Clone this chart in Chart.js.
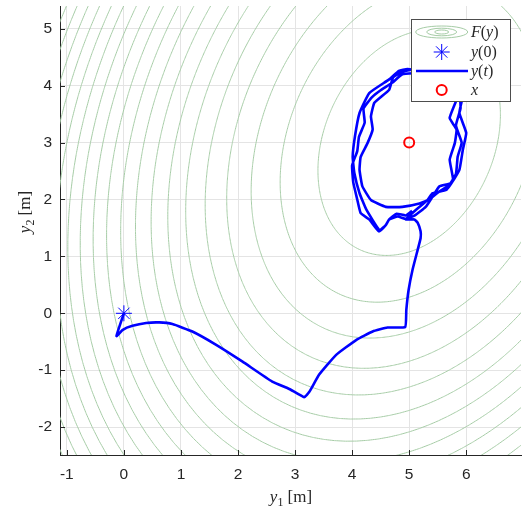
<!DOCTYPE html>
<html>
<head>
<meta charset="utf-8">
<script src="https://cdn.jsdelivr.net/npm/chart.js@4.4.1/dist/chart.umd.min.js"></script>
<style>
  html, body { margin: 0; padding: 0; background: #fff; }
  #plot { display: block; }
</style>
</head>
<body>
<canvas id="plot" width="522" height="510"></canvas>
<script>
'use strict'

// trajectory y(t) (y1 and y2 in metres)
const y1Path = [
  0, -0.13, -0.02, 0.15, 0.39, 0.62, 0.85, 1.2, 1.61, 2.08, 2.6, 2.9, 3.16, 3.25, 3.42, 3.72, 4.07, 4.36, 4.62, 4.93,
  4.95, 4.99, 5.06, 5.15, 5.2, 5.2, 5.15, 5.09, 4.94,
  5.12, 5.32, 5.41, 5.65, 5.77, 5.71, 5.8, 5.83, 5.71, 5.83, 5.9, 5.75, 5.45, 5.15, 4.97, 4.82, 4.65,
  4.3, 4.13, 4.05, 4.01, 4.04, 4.13, 4.25, 4.48, 4.59, 4.65, 4.8, 4.94,
  5.1, 5.29, 5.41, 5.53, 5.74, 5.88, 5.94, 6.0, 5.88, 5.94, 5.95, 5.8, 5.5, 5.2, 4.9, 4.72, 4.65,
  4.39, 4.33, 4.36, 4.27, 4.15, 4.13, 4.18, 4.33, 4.59, 4.88, 5.18,
  5.35, 5.5, 5.7, 5.82, 5.85, 5.92, 5.82, 5.9, 5.88, 5.7, 5.4, 5.1, 4.88, 4.7, 4.5, 4.35, 4.2,
  4.22, 4.12, 4.09, 4.0, 4.02, 4.09, 4.15, 4.3, 4.47, 4.59, 4.65, 4.78, 4.94, 5.05
]
const y2Path = [
  0, -0.4, -0.29, -0.22, -0.17, -0.16, -0.19, -0.32, -0.55, -0.85, -1.2, -1.33, -1.475, -1.38, -1.08, -0.73, -0.47, -0.32, -0.25, -0.24,
  0.06, 0.41, 0.77, 1.12, 1.32, 1.44, 1.59, 1.65, 1.65,
  1.82, 1.99, 2.11, 2.17, 2.34, 2.7, 2.99, 3.23, 3.43, 3.75, 4.0, 4.2, 4.25, 4.27, 4.29, 4.26, 4.11,
  3.87, 3.52, 3.11, 2.75, 2.46, 2.11, 1.82, 1.46, 1.55, 1.65, 1.7, 1.66,
  1.72, 1.87, 2.05, 2.23, 2.29, 2.52, 2.87, 3.17, 3.52, 3.81, 4.05, 4.22, 4.28, 4.3, 4.25, 4.15, 3.93,
  3.7, 3.46, 3.23, 2.99, 2.75, 2.52, 2.23, 1.99, 1.87, 1.87, 1.93,
  2.0, 2.12, 2.25, 2.45, 2.75, 3.0, 3.3, 3.6, 3.9, 4.18, 4.24, 4.22, 4.2, 4.05, 3.92, 3.8, 3.6,
  3.35, 3.1, 2.85, 2.6, 2.3, 2.0, 1.76, 1.65, 1.44, 1.55, 1.65, 1.75, 1.72, 1.8
]

const startPoint = [0, 0]
const targetPoint = [5, 3]

// F(y) = (y - x)' Q (y - x), Q = [q11 q12; q12 q22]
const qMatrix = [1, -0.2, 0.65]
const contourLevels = [2.4, 4.8, 7.2, 9.6, 12, 14.4, 16.8, 19.2, 21.6, 24,
  26.4, 28.8, 31.2, 33.6, 36, 38.4, 40.8, 43.2, 45.6, 48, 50.4]

const xRange = [-1.12, 6.96]
const yRange = [-2.49, 5.4]
const tickStep = 1

const inkColor = '#262626'
const contourColor = '#a6cca6'

// one closed curve per level of F, through the library's own scales
const levelCurve = (level) => {
  const pts = []
  for (let deg = 0; deg <= 360; deg += 2) {
    const c = Math.cos(deg * Math.PI / 180), s = Math.sin(deg * Math.PI / 180)
    const q = qMatrix[0] * c * c + 2 * qMatrix[1] * c * s + qMatrix[2] * s * s
    const r = Math.sqrt(level / q)
    pts.push({ x: targetPoint[0] + r * c, y: targetPoint[1] + r * s })
  }
  return pts
}

const contourSets = contourLevels.map(level => ({
  label: 'F(y)',
  data: levelCurve(level),
  showLine: true,
  tension: 0.0001,
  borderColor: contourColor,
  borderWidth: 1,
  pointRadius: 0,
  order: 4
}))

const pathSet = {
  label: 'y(t)',
  data: y1Path.map((v, i) => ({ x: v, y: y2Path[i] })),
  showLine: true,
  tension: 0.12,
  borderColor: '#0000ff',
  borderWidth: 2.6,
  borderJoinStyle: 'round',
  pointRadius: 0,
  order: 2
}

const startSet = {
  label: 'y(0)',
  data: [{ x: startPoint[0], y: startPoint[1] }],
  pointStyle: 'star',
  pointRadius: 8,
  borderColor: '#0000ff',
  borderWidth: 1,
  order: 1
}

const targetSet = {
  label: 'x',
  data: [{ x: targetPoint[0], y: targetPoint[1] }],
  pointStyle: 'circle',
  pointRadius: 5,
  borderColor: '#ff0000',
  backgroundColor: 'rgba(0,0,0,0)',
  borderWidth: 2,
  order: 0
}

// mixed italic / upright runs, like the LaTeX labels
const drawRuns = (ctx, runs, x, y, size, align) => {
  const fontOf = r => (r.it ? 'italic ' : '') + (r.sub ? size * 0.7 : size) + 'px "Liberation Serif"'
  let w = 0
  runs.forEach(r => { ctx.font = fontOf(r); w += ctx.measureText(r.t).width })
  let cx = align === 'center' ? x - w / 2 : x
  ctx.textBaseline = 'alphabetic'
  ctx.textAlign = 'left'
  runs.forEach(r => {
    ctx.font = fontOf(r)
    ctx.fillText(r.t, cx, y + (r.sub ? size * 0.22 : 0))
    cx += ctx.measureText(r.t).width
  })
}

const decorations = {
  id: 'decorations',
  afterDraw(chart) {
    const ctx = chart.ctx
    const area = chart.chartArea
    const xs = chart.scales.x, ys = chart.scales.y
    ctx.save()
    // inward tick marks
    ctx.strokeStyle = inkColor
    ctx.lineWidth = 1
    ctx.beginPath()
    xs.ticks.forEach(t => {
      const px = Math.round(xs.getPixelForValue(t.value)) + 0.5
      ctx.moveTo(px, area.bottom); ctx.lineTo(px, area.bottom - 5)
    })
    ys.ticks.forEach(t => {
      const py = Math.round(ys.getPixelForValue(t.value)) + 0.5
      ctx.moveTo(area.left, py); ctx.lineTo(area.left + 5, py)
    })
    ctx.stroke()

    // axis titles
    ctx.fillStyle = inkColor
    drawRuns(ctx, [{ t: 'y', it: true }, { t: '1', sub: true }, { t: ' [m]' }], 291, 502, 17, 'center')
    ctx.save()
    ctx.translate(30, 212)
    ctx.rotate(-Math.PI / 2)
    drawRuns(ctx, [{ t: 'y', it: true }, { t: '2', sub: true }, { t: ' [m]' }], 0, 0, 17, 'center')
    ctx.restore()

    // legend box
    const bx = 411.5, by = 19.5, bw = 99, bh = 82
    ctx.fillStyle = '#ffffff'
    ctx.fillRect(bx, by, bw, bh)
    ctx.strokeStyle = '#4d4d4d'
    ctx.strokeRect(bx, by, bw, bh)
    const iconX = 441.7, textX = 471
    const rows = [32, 52, 71, 90]

    ctx.strokeStyle = contourColor
    ;[[26, 6], [15, 3.8], [7, 2]].forEach(([rx, ry]) => {
      ctx.beginPath()
      ctx.ellipse(iconX, rows[0], rx, ry, 0, 0, 2 * Math.PI)
      ctx.stroke()
    })
    ctx.strokeStyle = '#0000ff'
    ctx.lineWidth = 1
    ctx.beginPath()
    for (let k = 0; k < 4; k++) {
      const a = k * Math.PI / 4
      ctx.moveTo(iconX - 8 * Math.cos(a), rows[1] - 8 * Math.sin(a))
      ctx.lineTo(iconX + 8 * Math.cos(a), rows[1] + 8 * Math.sin(a))
    }
    ctx.stroke()
    ctx.lineWidth = 2.6
    ctx.beginPath()
    ctx.moveTo(416, rows[2]); ctx.lineTo(468, rows[2])
    ctx.stroke()
    ctx.strokeStyle = '#ff0000'
    ctx.lineWidth = 2
    ctx.beginPath()
    ctx.arc(iconX, rows[3], 5, 0, 2 * Math.PI)
    ctx.stroke()

    ctx.fillStyle = inkColor
    const labels = [
      [{ t: 'F', it: true }, { t: '(' }, { t: 'y', it: true }, { t: ')' }],
      [{ t: 'y', it: true }, { t: '(0)' }],
      [{ t: 'y', it: true }, { t: '(' }, { t: 't', it: true }, { t: ')' }],
      [{ t: 'x', it: true }]
    ]
    labels.forEach((runs, i) => drawRuns(ctx, runs, textX, rows[i] + 5, 16, 'left'))
    ctx.restore()
  }
}

const tickFont = { family: '"Liberation Sans", Arial, sans-serif', size: 15.5 }

const config = {
  type: 'scatter',
  data: { datasets: [targetSet, startSet, pathSet, ...contourSets] },
  options: {
    responsive: false,
    animation: false,
    layout: { autoPadding: false, padding: { top: 6, right: 1, left: 0, bottom: 0 } },
    plugins: { legend: { display: false }, tooltip: { enabled: false } },
    scales: {
      x: {
        type: 'linear',
        min: xRange[0], max: xRange[1],
        ticks: { stepSize: tickStep, includeBounds: false, color: inkColor, font: tickFont, padding: 10, maxRotation: 0 },
        grid: { color: '#e4e4e4', drawTicks: false },
        border: { color: inkColor, width: 1 },
        afterFit: s => { s.height = 55; s.paddingLeft = 0; s.paddingRight = 0 }
      },
      y: {
        type: 'linear',
        min: yRange[0], max: yRange[1],
        ticks: { stepSize: tickStep, includeBounds: false, color: inkColor, font: tickFont, padding: 8 },
        grid: { color: '#e4e4e4', drawTicks: false },
        border: { color: inkColor, width: 1 },
        afterFit: s => { s.width = 60; s.paddingTop = 0; s.paddingBottom = 0 }
      }
    }
  },
  plugins: [decorations]
}

let grafico = new Chart(document.querySelector('#plot'), config)
</script>
</body>
</html>
